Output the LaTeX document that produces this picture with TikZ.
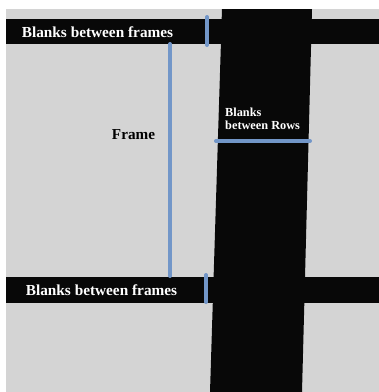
\documentclass[tikz,border=0pt]{standalone}
\usepackage{fontspec}
\setmainfont{Liberation Serif}
\definecolor{bggray}{RGB}{212,212,212}
\definecolor{inkblack}{RGB}{8,8,8}
\definecolor{markblue}{RGB}{114,150,200}
\begin{document}
\begin{tikzpicture}[x=1pt,y=-1pt,
  bandtext/.style={text=white,font=\bfseries\fontsize{15.3}{16}\selectfont,inner sep=0pt},
  frametext/.style={text=black,font=\bfseries\fontsize{15.2}{16}\selectfont,inner sep=0pt},
  rowtext/.style={text=white,font=\bfseries\fontsize{12.3}{13}\selectfont,inner sep=0pt,align=left,anchor=west},
  marker/.style={draw=markblue,line width=4pt,line cap=round}]
\useasboundingbox (0,0) rectangle (379,392);
\fill[white] (0,0) rectangle (379,392);
\fill[bggray] (6,9) rectangle (379,392);
% column of blanks between rows
\fill[inkblack] (222,9) -- (312,9) -- (302,392) -- (210,392) -- cycle;
% bands of blanks between frames
\fill[inkblack] (6,19) rectangle (379,44);
\fill[inkblack] (6,277) rectangle (379,303);
% texts
\node[bandtext] (topband) at (97.5,32) {Blanks between frames};
\node[bandtext] (botband) at (101.5,290) {Blanks between frames};
\node[frametext] (frame) at (133.5,135) {Frame};
\node[rowtext] (rows) at (225,118.5) {Blanks\\between Rows};
% markers
\coordinate (ttA) at (207,17);
\coordinate (ttB) at (207,45);
\coordinate (frA) at (170,44);
\coordinate (frB) at (170,276);
\coordinate (btA) at (206,275);
\coordinate (btB) at (206,302);
\coordinate (rwA) at (216,141);
\coordinate (rwB) at (310,141);
\draw[marker] (ttA) -- (ttB);
\draw[marker] (frA) -- (frB);
\draw[marker] (btA) -- (btB);
\draw[marker] (rwA) -- (rwB);
\end{tikzpicture}
\end{document}
